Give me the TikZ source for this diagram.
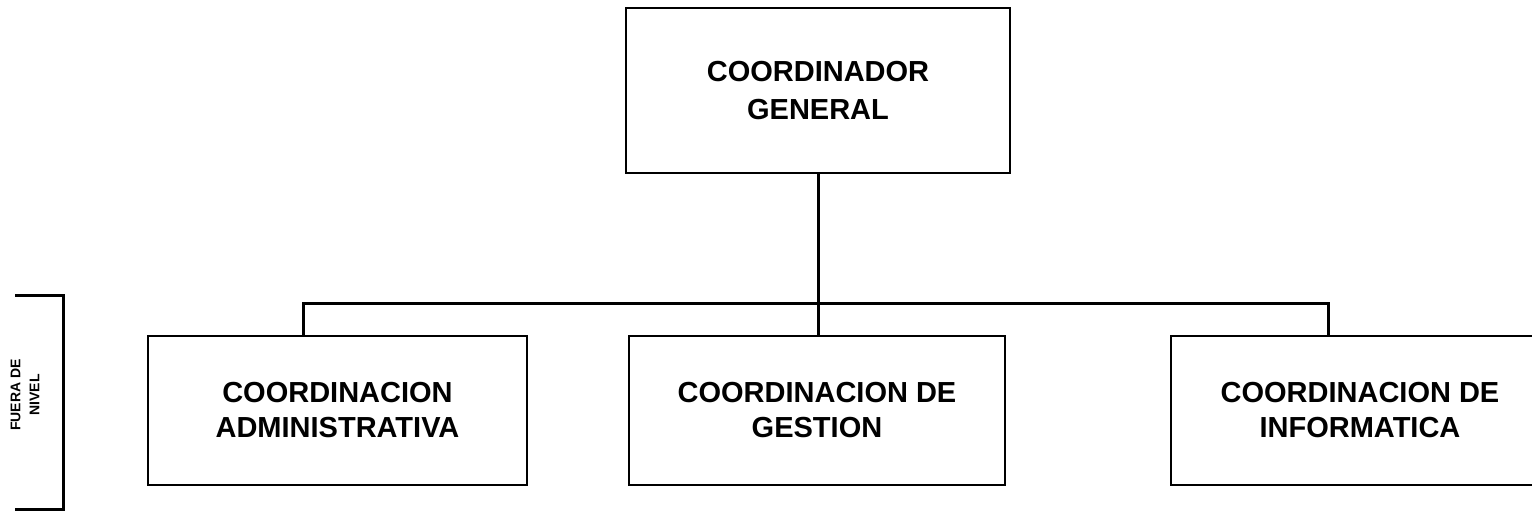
\documentclass[tikz,border=0pt]{standalone}
\usepackage{fontspec}
\setmainfont{Liberation Sans}
\begin{document}
\begin{tikzpicture}[x=1pt,y=-1pt,
  unitbox/.style={draw=black, line width=2.2pt, fill=white, inner sep=0pt,
    align=center, font=\fontsize{29}{35}\selectfont\bfseries},
  conn/.style={line width=3pt},
  brk/.style={line width=3pt}]
\useasboundingbox (0,0) rectangle (1532,513);
\clip (0,0) rectangle (1532,513);
% top box
\node[unitbox, minimum width=384pt, minimum height=165pt,
  font=\fontsize{29}{38}\selectfont\bfseries] (top) at (818,90.5)
  {COORDINADOR\\GENERAL};
% lower boxes
\node[unitbox, minimum width=379pt, minimum height=149pt] (adm) at (337.5,410.5)
  {COORDINACION\\ADMINISTRATIVA};
\node[unitbox, minimum width=376pt, minimum height=149pt] (ges) at (817,410.5)
  {COORDINACION DE\\GESTION};
\node[unitbox, minimum width=378pt, minimum height=149pt] (inf) at (1360,410.5)
  {COORDINACION DE\\INFORMATICA};
% connectors
\coordinate (jL) at (303,303);
\coordinate (jM) at (818,303);
\coordinate (jR) at (1328,303);
\draw[conn] (top.south -| jM) -- (jM |- ges.north);
\draw[conn, line cap=rect] (jL) -- (jR);
\draw[conn] (jL) -- (jL |- adm.north);
\draw[conn] (jR) -- (jR |- inf.north);
% side bracket
\coordinate (b1) at (15,295);
\coordinate (b2) at (63,295);
\coordinate (b3) at (63,509);
\coordinate (b4) at (15,509);
\draw[brk] (b1) -- (b2) -- (b3) -- (b4);
\node[rotate=90, align=center, inner sep=0pt,
  font=\fontsize{14}{19}\selectfont\bfseries] (fuera) at (25,395)
  {FUERA DE\\NIVEL};
\end{tikzpicture}
\end{document}
